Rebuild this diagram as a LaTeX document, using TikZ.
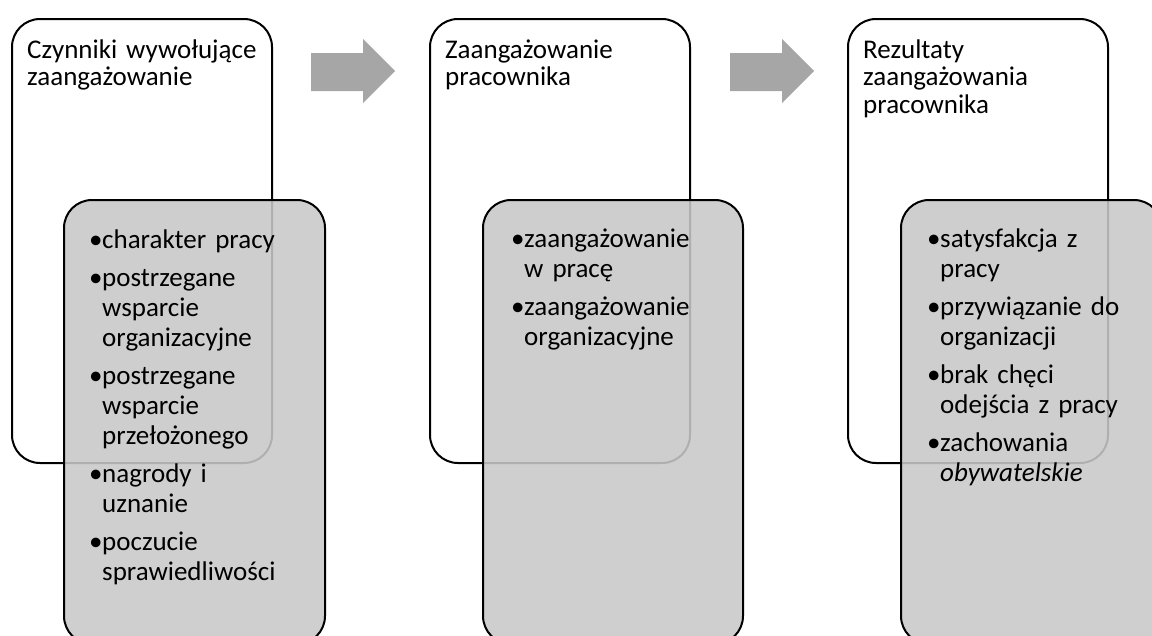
\documentclass[tikz,border=0pt]{standalone}
\usepackage{fontspec}
\setmainfont{Carlito}
\definecolor{boxgrey}{RGB}{200,200,200}
\definecolor{arrowgrey}{RGB}{166,166,166}
\newcommand\itm[1]{\makebox[13pt][l]{•}#1}
\newcommand\cnt[1]{\hspace*{13pt}#1}
\newcommand\boxfont[1]{\fontsize{27}{#1}\selectfont\spaceskip=5pt\relax}
\begin{document}
\begin{tikzpicture}[x=1pt,y=-1pt,
  outerbox/.style={draw=black,line width=2pt,rounded corners=28pt,fill=white},
  innerbox/.style={draw=black,line width=2pt,rounded corners=28pt,fill=boxgrey,fill opacity=0.88},
  headtext/.style={anchor=base west,inner sep=0pt,text width=260pt,align=left,
    font=\boxfont{27.5}},
  listtext/.style={anchor=base west,inner sep=0pt,text width=260pt,align=left,
    font=\boxfont{30}},
  flowarrow/.style={fill=arrowgrey}
]
\useasboundingbox (0,0) rectangle (1152,635);
\clip (0,0) rectangle (1152,635);

% stage 1
\draw[outerbox] (12,19) rectangle (272,463);
\draw[innerbox] (64,200) rectangle (325,644);
\node[headtext] (h1) at (27,58) {Czynniki wywołujące\\zaangażowanie};
\node[listtext] (l1) at (89,248) {\itm{charakter pracy}\\[8pt]
  \itm{postrzegane}\\\cnt{wsparcie}\\\cnt{organizacyjne}\\[8pt]
  \itm{postrzegane}\\\cnt{wsparcie}\\\cnt{przełożonego}\\[8pt]
  \itm{nagrody i}\\\cnt{uznanie}\\[8pt]
  \itm{poczucie}\\\cnt{sprawiedliwości}};

% stage 2
\draw[outerbox] (430,19) rectangle (690,463);
\draw[innerbox] (483,200) rectangle (743,644);
\node[headtext] (h2) at (445,58) {Zaangażowanie\\pracownika};
\node[listtext] (l2) at (511,247) {\itm{zaangażowanie}\\\cnt{w pracę}\\[8pt]
  \itm{zaangażowanie}\\\cnt{organizacyjne}};

% stage 3
\draw[outerbox] (848,19) rectangle (1108,463);
\draw[innerbox] (901,200) rectangle (1162,644);
\node[headtext] (h3) at (863,58) {Rezultaty\\zaangażowania\\pracownika};
\node[listtext] (l3) at (927,247) {\itm{satysfakcja z}\\\cnt{pracy}\\[8pt]
  \itm{przywiązanie do}\\\cnt{organizacji}\\[8pt]
  \itm{brak chęci}\\\cnt{odejścia z pracy}\\[8pt]
  \itm{zachowania}\\\cnt{\textit{obywatelskie}}};

% block arrows between stages
\fill[flowarrow] (311,53) -- (363,53) -- (363,39) -- (395,71) -- (363,103)
  -- (363,91) -- (311,91) -- cycle;
\fill[flowarrow] (730,53) -- (782,53) -- (782,39) -- (814,71) -- (782,103)
  -- (782,91) -- (730,91) -- cycle;
\end{tikzpicture}
\end{document}
